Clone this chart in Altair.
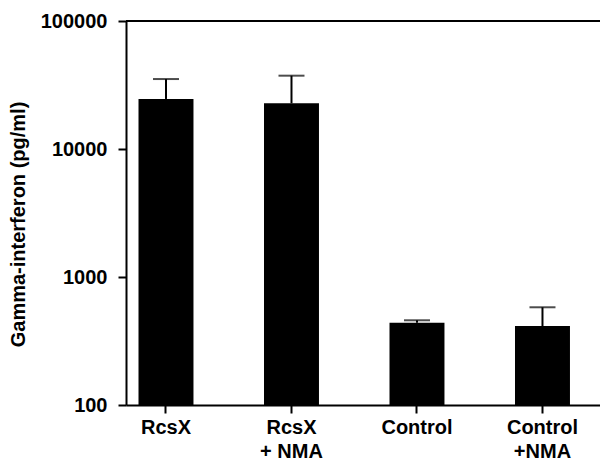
import altair as alt
import pandas as pd

groups = ["RcsX", "RcsX|+ NMA", "Control", "Control|+NMA"]
means = [24600, 22750, 439, 414]
upper = [35200, 37400, 459, 580]
base = [100, 100, 100, 100]

df = pd.DataFrame({"group": groups, "mean": means, "upper": upper, "base": base})

FONT = "Liberation Sans"
W, H = 474, 384

xenc = alt.X("group:N", sort=groups,
             scale=alt.Scale(paddingInner=0.562, paddingOuter=0.1695, align=0.294),
             axis=alt.Axis(title=None, labelAngle=0, labelExpr="split(datum.label, '|')",
                           labelFont=FONT, labelFontSize=20, labelFontWeight="bold",
                           labelColor="black", labelPadding=4, labelLineHeight=24,
                           labelBaseline="top",
                           tickSize=8, tickWidth=2, tickColor="black",
                           domainColor="black", domainWidth=2, grid=False))

yscale = alt.Scale(type="log", domain=[100, 100000], nice=False)
yaxis = alt.Axis(title="Gamma-interferon (pg/ml)", values=[100, 1000, 10000, 100000],
                 format="d", labelFont=FONT, labelFontSize=20, labelFontWeight="bold",
                 labelColor="black", labelPadding=11, tickSize=8, tickWidth=2,
                 tickColor="black", domainColor="black", domainWidth=2, grid=False,
                 titleFont=FONT, titleFontSize=20, titleFontWeight="bold",
                 titleColor="black", titleX=-98, titleY=203, titleAngle=270,
                 titleBaseline="bottom", titleAlign="center")

bars = alt.Chart(df).mark_bar(color="black").encode(
    x=xenc,
    y=alt.Y("mean:Q", scale=yscale, axis=yaxis),
    y2="base:Q",
)

err = alt.Chart(df).mark_rule(color="black", strokeWidth=2).encode(
    x=alt.X("group:N", sort=groups),
    y="mean:Q",
    y2="upper:Q",
)

cap = alt.Chart(df).mark_tick(color="black", size=26, thickness=2).encode(
    x=alt.X("group:N", sort=groups),
    y="upper:Q",
)

top = alt.Chart(pd.DataFrame({"v": [100000]})).mark_rule(color="black", strokeWidth=2).encode(
    y="v:Q",
    x=alt.value(0),
    x2=alt.value(W),
)

chart = alt.layer(bars, err, cap, top).properties(
    width=W, height=H,
    autosize=alt.AutoSizeParams(type="none"),
    padding={"left": 118, "top": 13, "right": 0, "bottom": 55},
).configure_view(stroke=None)

chart.save("out.html", embed_options={"renderer": "svg", "actions": False})
